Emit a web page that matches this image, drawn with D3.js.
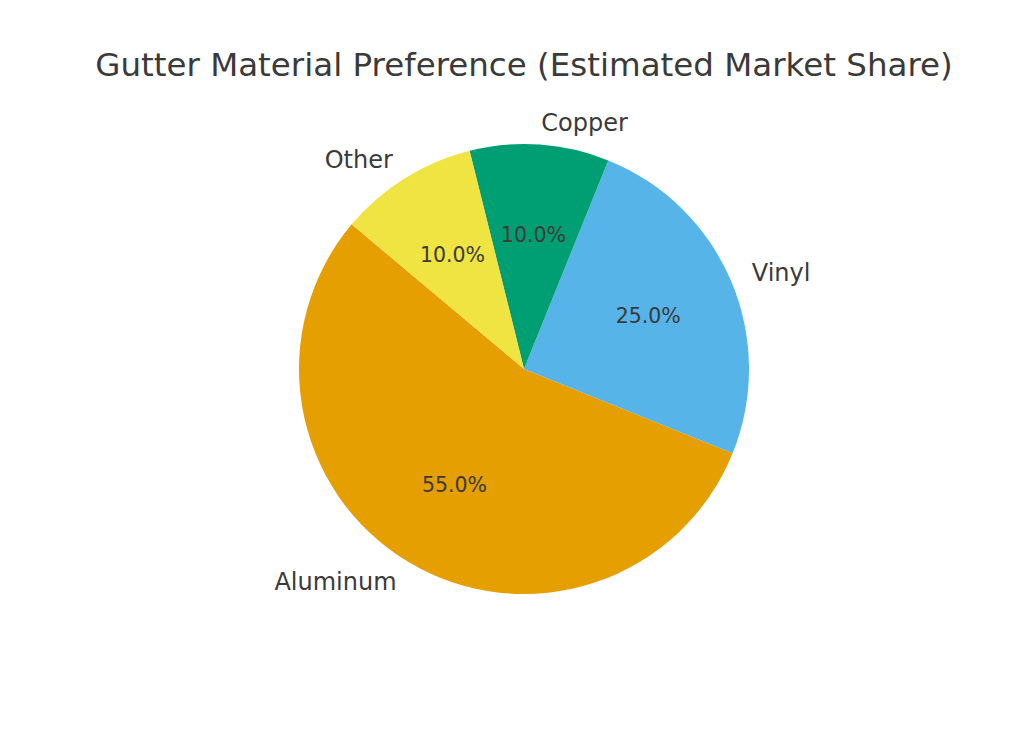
<!DOCTYPE html><html><head><meta charset="utf-8"><script src="https://cdn.jsdelivr.net/npm/d3@7"></script>
<style>body{margin:0;background:#fff}text{font-family:"DejaVu Sans";fill:#3a3a3a}</style></head><body>
<svg id="c" width="1024" height="731"></svg>
<script>
const categories=["Aluminum","Vinyl","Copper","Other"];
const values=[55,25,10,10];
const colors=["#E69F00","#56B4E9","#009E73","#F0E442"];
const svg=d3.select("#c");
const cx=524,cy=369,r=225;
svg.append("text").attr("x",524).attr("y",76).attr("text-anchor","middle").attr("font-size",32.5).text("Gutter Material Preference (Estimated Market Share)");
const sa=(90-140)*Math.PI/180;
const pie=d3.pie().sort(null).startAngle(sa).endAngle(sa-2*Math.PI);
const arcs=pie(values);
const g=svg.append("g").attr("transform",`translate(${cx},${cy})`);
const arc=d3.arc().innerRadius(0).outerRadius(r);
g.selectAll("path").data(arcs).join("path").attr("d",arc).attr("fill",(d,i)=>colors[i]);
arcs.forEach((d,i)=>{
  const m=(d.startAngle+d.endAngle)/2;
  const x=Math.sin(m),y=-Math.cos(m);
  g.append("text").attr("x",x*r*1.1).attr("y",y*r*1.1).attr("dy","0.35em")
   .attr("text-anchor",x>0?"start":"end").attr("font-size",24).text(categories[i]);
  const p=d.data/d3.sum(values)*100;
  g.append("text").attr("x",x*r*0.6).attr("y",y*r*0.6).attr("dy","0.35em")
   .attr("text-anchor","middle").attr("font-size",20.5).text(p.toFixed(1)+"%");
});
</script></body></html>
